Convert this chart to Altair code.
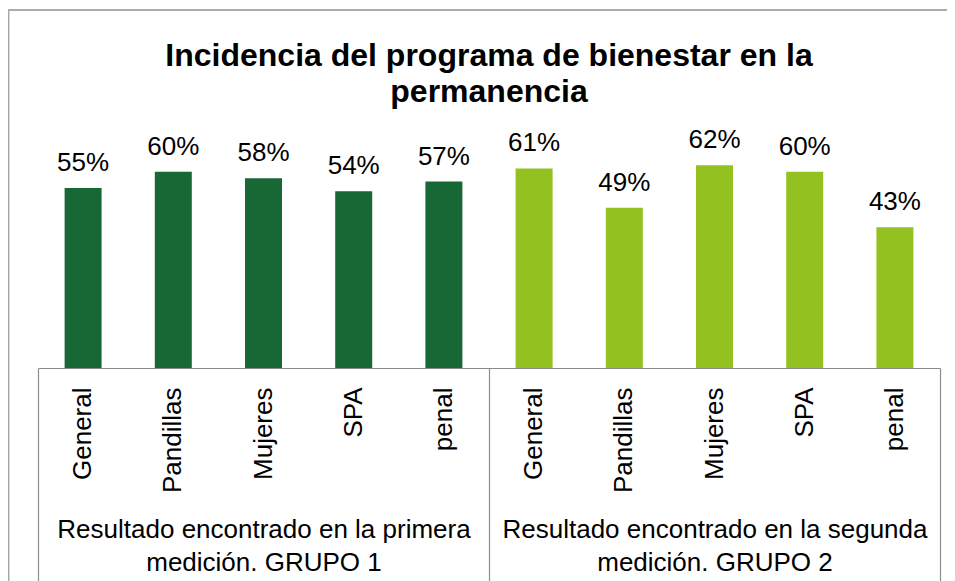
import altair as alt
import pandas as pd

categories = ["General", "Pandillas", "Mujeres", "SPA", "penal"]
group_keys = ["GRUPO 1", "GRUPO 2"]
group_labels = [
    "Resultado encontrado en la primera\nmedición. GRUPO 1",
    "Resultado encontrado en la segunda\nmedición. GRUPO 2",
]
values_g1 = [0.55, 0.60, 0.58, 0.54, 0.57]
values_g2 = [0.61, 0.49, 0.62, 0.60, 0.43]
colors = ["#176834", "#93C11F"]
title_lines = ["Incidencia del programa de bienestar en la", "permanencia"]

rows = []
for gi, (gk, vals) in enumerate(zip(group_keys, [values_g1, values_g2])):
    for ci, (c, v) in enumerate(zip(categories, vals)):
        rows.append({"key": f"{gi}-{ci}", "cat": c, "group": group_labels[gi], "value": v})
df = pd.DataFrame(rows)
gdf = pd.DataFrame({"group": group_labels})

FONT = "Liberation Sans"
keys = list(df["key"])
label_map = "{" + ",".join(f"'{k}':'{c}'" for k, c in zip(df["key"], df["cat"])) + "}"

x_cat = alt.X(
    "key:N",
    sort=keys,
    scale=alt.Scale(paddingInner=0.59, paddingOuter=0.295),
    axis=alt.Axis(
        title=None,
        orient="bottom",
        labelAngle=270,
        labelAlign="right",
        labelBaseline="middle",
        labelExpr=label_map + "[datum.value]",
        labelFont=FONT,
        labelFontSize=26,
        labelColor="black",
        labelPadding=19,
        ticks=False,
        tickSize=0,
        domainColor="#8c8c8c",
        domainWidth=1.2,
        labelOverlap=False,
        labelLimit=0,
    ),
)
y = alt.Y("value:Q", scale=alt.Scale(domain=[0, 0.7]), axis=None)

border = alt.Chart(gdf).mark_rect(fill=None, stroke="#a6a6a6", strokeWidth=1.5).encode(
    x=alt.value(-29.5), x2=alt.value(1000), y=alt.value(-129), y2=alt.value(600)
)
bars = alt.Chart(df).mark_bar().encode(
    x=x_cat,
    y=y,
    color=alt.Color("group:N", scale=alt.Scale(domain=group_labels, range=colors), legend=None),
)
text = alt.Chart(df).mark_text(
    font=FONT, fontSize=26, baseline="alphabetic", dy=-17, color="black"
).encode(x=alt.X("key:N", sort=keys), y=y, text=alt.Text("value:Q", format=".0%"))

grp = alt.Chart(gdf).mark_point(opacity=0).encode(
    x=alt.X(
        "group:N",
        sort=group_labels,
        scale=alt.Scale(paddingInner=0, paddingOuter=0),
        axis=alt.Axis(
            title=None,
            orient="bottom",
            domain=False,
            ticks=True,
            tickBand="extent",
            tickSize=215,
            tickColor="#8c8c8c",
            tickWidth=1.2,
            labelAngle=0,
            labelAlign="center",
            labelBaseline="top",
            labelExpr="isValid(datum.value) ? split(datum.value, '\\n') : ''",
            labelFont=FONT,
            labelFontSize=26,
            labelColor="black",
            labelLineHeight=33,
            labelPadding=-67,
            labelFlush=False,
            labelOverlap=False,
            labelLimit=0,
        ),
    )
)

main = alt.layer(border, bars, text)

chart = (
    alt.layer(main, grp)
    .resolve_scale(x="independent")
    .properties(
        width=902,
        height=229,
        padding={"left": 30, "top": 131, "right": 7, "bottom": 213},
        autosize=alt.AutoSizeParams(type="none"),
        title=alt.TitleParams(
            text=title_lines,
            font=FONT,
            fontSize=32,
            fontWeight="bold",
            color="black",
            anchor="middle",
            lineHeight=36,
            offset=-100,
        ),
    )
    .configure_view(stroke=None)
)

chart.save("out.html", embed_options={"renderer": "svg", "actions": False})
